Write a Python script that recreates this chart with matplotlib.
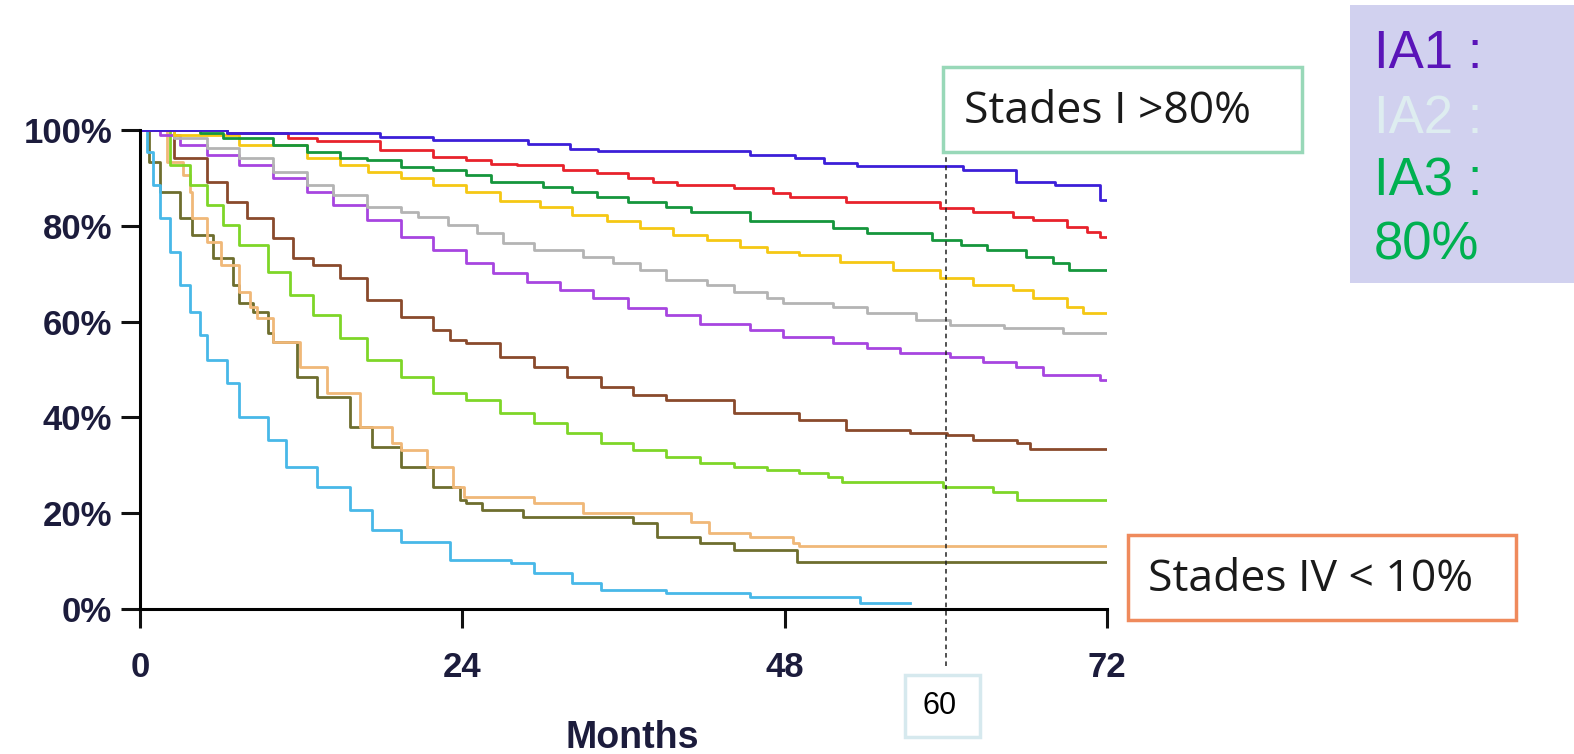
import matplotlib
matplotlib.use('Agg')
import matplotlib.pyplot as plt
from matplotlib.patches import Rectangle

# survival curves (months, % alive), step after each time
blue_t = [0, 6.5, 17.9, 21.8, 28.9, 32.0, 34.1, 45.4, 48.8, 50.9, 53.4, 61.3, 65.2, 68.1, 71.5, 72]
blue_s = [100, 99.3, 98.5, 98.0, 97.0, 96.0, 95.6, 94.8, 94.2, 93.1, 92.5, 91.6, 89.1, 88.5, 85.4, 85.4]

red_t = [0, 6.5, 11.0, 13.2, 17.9, 21.8, 24.3, 26.1, 28.1, 31.5, 34.0, 36.3, 38.2, 40.0, 44.2,
         47.1, 48.4, 52.6, 59.6, 62.0, 65.0, 66.5, 69.0, 70.5, 71.5, 72]
red_s = [100, 99.3, 98.3, 97.6, 95.8, 94.4, 93.7, 93.0, 92.7, 91.6, 91.0, 89.9, 89.2, 88.5, 87.8,
         86.8, 86.1, 85.0, 83.7, 82.9, 81.9, 81.2, 79.8, 78.8, 77.7, 77.7]

green_t = [0, 4.5, 6.2, 9.9, 12.4, 14.9, 16.9, 19.4, 21.8, 24.3, 26.1, 30.0, 32.2, 34.0, 36.3,
           39.2, 41.0, 45.4, 51.6, 54.1, 59.0, 61.1, 63.1, 66.0, 68.0, 69.2, 72]
green_s = [100, 99.3, 98.3, 96.9, 95.4, 94.2, 93.7, 92.3, 91.6, 90.6, 89.2, 88.2, 87.1, 86.1, 85.0,
           84.0, 82.9, 81.0, 79.5, 78.4, 77.0, 76.0, 74.9, 73.5, 72.2, 70.8, 70.8]

yellow_t = [0, 2.5, 7.4, 12.4, 14.9, 17.0, 19.4, 21.8, 24.3, 26.8, 29.8, 32.2, 34.8, 37.2, 39.7,
            42.2, 44.7, 46.7, 49.1, 52.1, 56.1, 59.6, 62.0, 65.0, 66.5, 69.0, 70.2, 72]
yellow_s = [100, 99.0, 96.9, 94.2, 92.7, 91.2, 89.9, 88.5, 87.1, 85.2, 84.0, 82.3, 80.9, 79.5, 78.1,
            77.0, 75.6, 74.6, 73.9, 72.5, 70.8, 69.0, 67.6, 66.6, 64.9, 63.1, 61.7, 61.7]

gray_t = [0, 2.5, 5.0, 7.4, 9.9, 12.4, 14.4, 16.9, 19.4, 20.7, 22.9, 25.1, 27.0, 29.3, 33.0, 35.2,
          37.2, 39.2, 42.2, 44.2, 46.7, 47.9, 51.6, 54.1, 57.8, 60.3, 64.3, 68.7, 72]
gray_s = [100, 98.3, 96.2, 94.2, 91.2, 88.5, 86.4, 84.0, 82.9, 81.9, 80.2, 78.4, 76.4, 74.9, 73.5, 72.2,
          70.8, 68.7, 67.6, 66.2, 64.9, 63.8, 63.1, 61.7, 60.3, 59.3, 58.6, 57.6, 57.6]

purple_t = [0, 1.5, 3.0, 5.0, 7.4, 9.9, 12.4, 14.4, 16.9, 19.4, 21.8, 24.3, 26.3, 28.8, 31.3, 33.7,
            36.3, 39.2, 41.7, 45.4, 47.9, 51.6, 54.1, 56.6, 60.3, 62.8, 65.2, 67.2, 71.5, 72]
purple_s = [100, 99.0, 96.9, 94.8, 92.7, 90.0, 87.1, 84.3, 81.2, 77.7, 74.9, 72.2, 70.1, 68.3, 66.6, 64.9,
            62.8, 61.4, 59.6, 58.2, 56.8, 55.5, 54.4, 53.4, 52.7, 51.6, 50.6, 48.9, 47.8, 47.8]

brown_t = [0, 2.5, 5.0, 6.5, 8.0, 9.9, 11.4, 12.9, 14.9, 16.9, 19.4, 21.8, 23.1, 24.3, 26.8, 29.3,
           31.8, 34.3, 36.7, 39.2, 44.2, 49.1, 52.6, 57.3, 60.1, 62.0, 65.3, 66.3, 72]
brown_s = [100, 94.2, 89.2, 85.0, 81.6, 77.5, 73.3, 71.8, 69.1, 64.5, 61.0, 58.2, 56.2, 55.5, 52.7, 50.6,
           48.5, 46.4, 44.7, 43.6, 40.9, 39.5, 37.4, 36.7, 36.3, 35.3, 34.6, 33.5, 33.5]

lime_t = [0, 2.2, 3.7, 5.0, 6.2, 7.4, 9.5, 11.2, 12.9, 14.9, 16.9, 19.4, 21.8, 24.3, 26.8, 29.3,
          31.8, 34.3, 36.7, 39.2, 41.7, 44.2, 46.7, 49.1, 51.2, 52.3, 59.8, 63.5, 65.3, 72]
lime_s = [100, 92.7, 88.5, 84.3, 80.2, 76.0, 70.4, 65.6, 61.4, 56.6, 52.0, 48.4, 45.1, 43.6, 40.9, 38.8,
          36.7, 34.7, 33.2, 31.7, 30.5, 29.7, 29.0, 28.4, 27.6, 26.5, 25.5, 24.4, 22.8, 22.8]

tan_t = [0, 2.0, 3.2, 3.7, 3.9, 5.0, 6.0, 7.4, 8.2, 8.7, 9.9, 11.9, 13.9, 16.4, 18.8, 19.4, 21.4,
         23.3, 24.1, 29.3, 33.0, 41.0, 42.4, 45.4, 48.6, 49.1, 72]
tan_s = [100, 93.4, 90.6, 87.1, 81.6, 76.6, 71.8, 66.2, 63.1, 60.8, 55.7, 50.5, 45.1, 38.0, 34.7, 33.2, 29.6,
         25.5, 23.4, 22.1, 20.0, 18.2, 15.8, 15.1, 13.7, 13.1, 13.1]

olive_t = [0, 0.7, 1.5, 3.0, 3.9, 5.4, 6.9, 7.4, 8.4, 9.5, 9.9, 11.7, 13.2, 15.6, 17.3, 19.4, 21.8,
           23.8, 24.3, 25.5, 28.5, 36.7, 38.5, 41.7, 44.2, 48.9, 72]
olive_s = [100, 93.4, 87.1, 81.6, 78.1, 73.3, 67.6, 63.9, 62.0, 57.6, 55.7, 48.4, 44.3, 38.0, 33.8, 29.6, 25.5,
           22.8, 22.1, 20.7, 19.3, 17.9, 15.1, 13.7, 12.3, 9.8, 9.8]

cyan_t = [0, 0.5, 1.0, 1.5, 2.2, 3.0, 3.7, 4.5, 5.0, 6.5, 7.4, 9.5, 10.9, 13.2, 15.6, 17.3, 19.4,
          23.1, 27.6, 29.3, 32.2, 34.3, 39.2, 45.4, 53.6, 57.3]
cyan_s = [100, 95.5, 88.5, 81.6, 74.5, 67.6, 62.0, 57.2, 52.0, 47.2, 40.1, 35.3, 29.6, 25.5, 20.7, 16.5, 14.0,
          10.2, 9.6, 7.5, 5.4, 4.0, 3.3, 2.6, 1.2, 1.2]

curves = [
    (olive_t, olive_s, '#6e6e2e'),
    (tan_t, tan_s, '#f0b878'),
    (cyan_t, cyan_s, '#48b8e8'),
    (lime_t, lime_s, '#7ed628'),
    (brown_t, brown_s, '#8a4a2c'),
    (purple_t, purple_s, '#a745e0'),
    (gray_t, gray_s, '#b4b4b4'),
    (yellow_t, yellow_s, '#f5c814'),
    (green_t, green_s, '#15963c'),
    (red_t, red_s, '#e8222c'),
    (blue_t, blue_s, '#3c1fd8'),
]

x_ticks = [0, 24, 48, 72]
y_ticks = [0, 20, 40, 60, 80, 100]
y_ticklabels = ['0%', '20%', '40%', '60%', '80%', '100%']
mark_month = 60

W, H = 1574, 754
fig = plt.figure(figsize=(W / 100, H / 100), dpi=100)
ax = fig.add_axes([140 / W, 1 - 609 / H, 967 / W, 479 / H])

for t, s, c in curves:
    ax.step(t, s, where='post', color=c, lw=2.0)

ax.plot([mark_month, mark_month], [-12, 95.4], color='#222222', lw=1.1,
        ls=(0, (3, 2.5)), clip_on=False)

ax.set_xlim(0, 72)
ax.set_ylim(0, 100)
ax.set_xticks(x_ticks)
ax.set_yticks(y_ticks)
ax.set_yticklabels(y_ticklabels)
for side in ['top', 'right']:
    ax.spines[side].set_visible(False)
for side in ['left', 'bottom']:
    ax.spines[side].set_linewidth(2.2)
ax.tick_params(axis='both', width=2.2, length=14, colors='#111111',
               labelcolor='#1c1c3c')
ax.tick_params(axis='y', pad=6)
ax.tick_params(axis='x', pad=16)
for lab in ax.get_xticklabels() + ax.get_yticklabels():
    lab.set_fontfamily('Liberation Sans')
    lab.set_fontweight('bold')
    lab.set_fontsize(25)

ax.set_xlabel('Months', fontsize=27, fontweight='bold', color='#1c1c3c',
              family='Liberation Sans')
ax.xaxis.set_label_coords(0.509, -0.232)

# annotation boxes
def box(x0, y0, x1, y1, edge, lw=2.5, face='white'):
    fig.patches.append(Rectangle((x0 / W, 1 - y1 / H), (x1 - x0) / W, (y1 - y0) / H,
                                 transform=fig.transFigure, facecolor=face,
                                 edgecolor=edge, lw=lw, zorder=5))

box(943, 67, 1302, 152, '#98d8b8')
fig.text(964 / W, 1 - 112 / H, 'Stades I >80%', fontsize=32, family='Open Sans',
         color='#1a1a1a', va='center', zorder=6)

box(1128, 535, 1516, 620, '#ef8a5c')
fig.text(1148 / W, 1 - 580 / H, 'Stades IV < 10%', fontsize=32, family='Open Sans',
         color='#1a1a1a', va='center', zorder=6)

box(905, 675, 980, 737, '#d6e9ee')
fig.text(940 / W, 1 - 706 / H, '60', fontsize=22, family='Liberation Sans',
         color='black', ha='center', va='center', zorder=6)

box(1350, 5, 1580, 283, 'none', lw=0, face='#d1d1ef')
side_txt = [('IA1 :', '#5a14b8', 68), ('IA2 :', '#deedf0', 133),
            ('IA3 :', '#00b050', 195), ('80%', '#00b050', 260)]
for txt, col, base in side_txt:
    fig.text(1374 / W, 1 - base / H, txt, fontsize=38, family='Liberation Sans',
             color=col, va='baseline', zorder=6)

fig.savefig('out.png', dpi=100)
